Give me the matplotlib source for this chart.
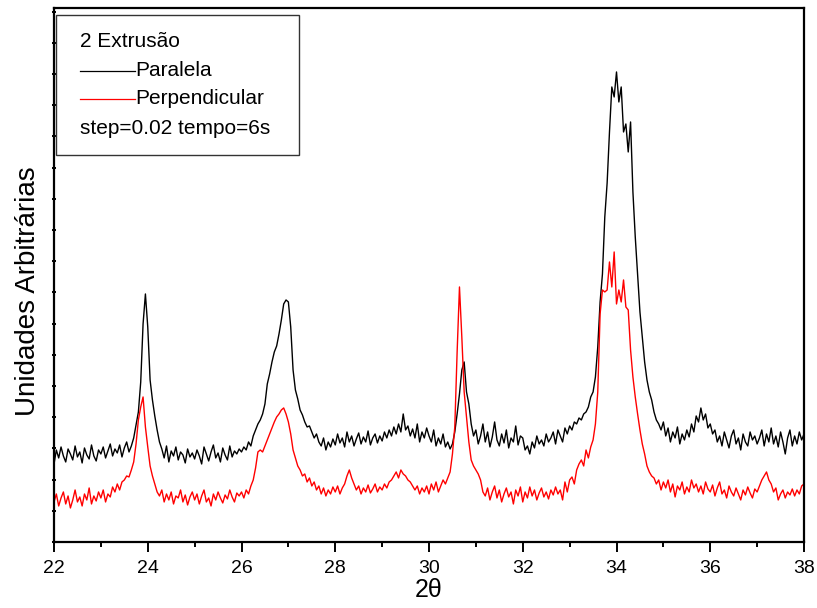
import numpy as np
import matplotlib
matplotlib.use("Agg")
import matplotlib.pyplot as plt
from matplotlib.patches import Rectangle
from matplotlib.ticker import MultipleLocator

plt.rcParams['font.family'] = ['Liberation Sans', 'DejaVu Sans']

# intensidades (u.a.), passo de 0.05 grau entre 22 e 38
paralela = [
    78, 92, 84, 95, 86, 80, 93, 88, 82, 96, 85, 90, 79, 94, 87, 83, 97, 86, 81, 92,          # 22
    88, 95, 84, 91, 98, 86, 93, 89, 97, 85, 94, 100, 90, 96, 104, 117, 130, 160, 218, 248,   # 23
    215, 162, 142, 126, 112, 100, 93, 84, 96, 80, 91, 86, 95, 82, 90, 87, 79, 93, 85, 89,    # 24
    83, 92, 86, 78, 95, 88, 81, 90, 97, 84, 89, 80, 94, 87, 82, 96, 85, 91, 88, 93,          # 25
    90, 95, 92, 100, 96, 106, 112, 118, 122, 128, 138, 158, 168, 180, 190, 196, 208, 222, 238, 242,  # 26
    240, 215, 172, 152, 143, 132, 127, 120, 115, 116, 110, 104, 108, 100, 96, 104, 92, 100, 95, 103,  # 27
    97, 108, 99, 104, 95, 110, 100, 106, 96, 103, 109, 98, 105, 100, 111, 97, 104, 108, 99, 106,      # 28
    101, 110, 104, 112, 106, 115, 108, 118, 110, 128, 112, 116, 106, 113, 104, 118, 100, 110, 104, 114,  # 29
    106, 100, 112, 96, 104, 98, 108, 95, 100, 93, 98, 110, 128, 148, 172, 180, 150, 138, 118, 106,    # 30
    112, 98, 106, 118, 100, 110, 95, 105, 120, 102, 96, 108, 99, 112, 94, 104, 100, 116, 97, 106,     # 31
    104, 92, 96, 88, 100, 94, 106, 98, 102, 96, 108, 100, 104, 110, 98, 112, 106, 100, 114, 108,      # 32
    116, 112, 120, 118, 124, 122, 128, 130, 135, 145, 150, 165, 195, 240, 268, 325, 359, 410, 455, 445,  # 33
    470, 440, 455, 410, 418, 390, 420, 350, 305, 268, 230, 205, 180, 162, 150, 142, 130, 122, 118, 112,  # 34
    120, 106, 114, 100, 110, 104, 115, 98, 108, 102, 112, 105, 118, 110, 126, 120, 134, 122, 128, 114,   # 35
    118, 108, 112, 100, 106, 96, 110, 102, 94, 106, 112, 98, 104, 92, 108, 100, 96, 110, 102, 106,       # 36
    98, 104, 112, 96, 108, 100, 114, 98, 106, 95, 110, 100, 88, 104, 112, 96, 106, 98, 110, 102, 108,   # 37-38
]

perpendicular = [
    40, 48, 36, 44, 50, 38, 46, 34, 42, 52, 40, 45, 36, 48, 42, 54, 38, 46, 41, 50,          # 22
    44, 52, 40, 48, 45, 55, 50, 58, 52, 60, 62, 66, 65, 72, 80, 98, 122, 135, 145, 115,      # 23
    95, 76, 66, 58, 50, 46, 52, 40, 48, 42, 50, 38, 46, 44, 52, 40, 47, 37, 45, 50,          # 24
    42, 48, 38, 46, 52, 40, 44, 36, 48, 42, 50, 44, 39, 47, 43, 52, 45, 40, 49, 46,          # 25
    50, 44, 52, 48, 56, 62, 74, 90, 92, 90, 96, 102, 108, 114, 120, 125, 128, 132, 134, 128,  # 26
    120, 108, 92, 84, 76, 72, 66, 68, 60, 64, 56, 60, 52, 56, 48, 54, 46, 52, 48, 55,        # 27
    50, 56, 48, 54, 58, 66, 72, 64, 58, 52, 56, 48, 54, 50, 57, 49, 53, 58, 50, 55,          # 28
    52, 58, 54, 60, 62, 66, 70, 64, 72, 68, 66, 62, 60, 56, 52, 56, 48, 54, 50, 56,          # 29
    48, 58, 52, 60, 50, 56, 62, 58, 64, 70, 88, 115, 190, 255, 205, 150, 125, 100, 82, 76,   # 30
    72, 68, 62, 50, 46, 54, 42, 50, 56, 44, 52, 40, 48, 54, 45, 50, 38, 52, 46, 55,          # 31
    40, 50, 44, 55, 46, 52, 42, 49, 54, 45, 50, 43, 52, 47, 55, 48, 52, 42, 60, 50,          # 32
    62, 65, 58, 72, 78, 82, 76, 92, 84, 95, 102, 118, 150, 228, 252, 250, 252, 280, 255, 290,  # 33
    238, 252, 240, 262, 235, 232, 192, 165, 145, 128, 112, 98, 88, 76, 70, 66, 64, 58, 62, 52,  # 34
    60, 54, 62, 50, 58, 45, 56, 52, 60, 48, 55, 50, 62, 54, 58, 50, 56, 48, 60, 53,          # 35
    50, 57, 46, 54, 60, 48, 52, 44, 56, 50, 46, 54, 48, 42, 52, 47, 55, 49, 44, 53,          # 36
    50, 56, 62, 66, 70, 62, 58, 50, 54, 42, 48, 52, 44, 50, 47, 53, 46, 52, 48, 56, 58,      # 37-38
]

theta_paralela = np.linspace(22, 38, len(paralela))
theta_perp = np.linspace(22, 38, len(perpendicular))

fig = plt.figure(figsize=(8.17, 6.08), dpi=100)
ax = fig.add_axes([0.0661, 0.1086, 0.918, 0.8783])

ax.plot(theta_paralela, paralela, color='black', lw=1.0)
ax.plot(theta_perp, perpendicular, color='#ff0000', lw=1.0)

ax.set_xlim(22, 38)
ax.set_ylim(0, 534)

ax.xaxis.set_major_locator(MultipleLocator(2))
ax.xaxis.set_minor_locator(MultipleLocator(1))
ax.yaxis.set_major_locator(MultipleLocator(31.2))
ax.tick_params(axis='x', which='major', direction='out', length=7, width=1.4,
               labelsize=14, pad=6, top=False)
ax.tick_params(axis='x', which='minor', direction='out', length=3.5, width=1.4, top=False)
ax.tick_params(axis='y', which='major', direction='inout', length=2.5, width=1.4,
               labelleft=False, right=False)
for sp in ax.spines.values():
    sp.set_linewidth(1.6)

ax.set_xlabel('2θ', fontsize=18, labelpad=1)
ax.set_ylabel('Unidades Arbitrárias', fontsize=20)
ax.yaxis.set_label_coords(-0.018, 0.47)

# caixa da legenda desenhada a mao
ax.add_patch(Rectangle((0.002, 0.7247), 0.3247, 0.2628, transform=ax.transAxes,
                       fill=False, edgecolor='#333333', lw=1.0, zorder=5))
fs = 15
ax.text(0.0347, 0.938, '2 Extrusão', transform=ax.transAxes, fontsize=fs, va='center')
ax.plot([0.0347, 0.108], [0.882, 0.882], color='black', lw=0.9, transform=ax.transAxes)
ax.text(0.108, 0.882, 'Paralela', transform=ax.transAxes, fontsize=fs, va='center')
ax.plot([0.0347, 0.108], [0.830, 0.830], color='#ff0000', lw=0.9, transform=ax.transAxes)
ax.text(0.108, 0.830, 'Perpendicular', transform=ax.transAxes, fontsize=fs, va='center')
ax.text(0.0347, 0.775, 'step=0.02 tempo=6s', transform=ax.transAxes, fontsize=fs, va='center')

fig.savefig('out.png', dpi=100)
